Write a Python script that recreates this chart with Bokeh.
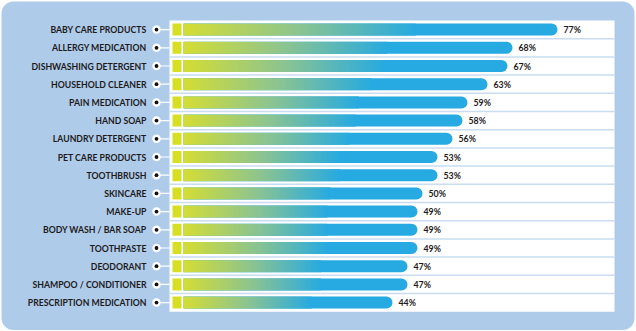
import numpy as np
from bokeh.plotting import figure
from bokeh.models import Range1d
from bokeh.core.properties import value
from bokeh.embed import file_html
from bokeh.resources import INLINE

categories = [
    "BABY CARE PRODUCTS", "ALLERGY MEDICATION", "DISHWASHING DETERGENT",
    "HOUSEHOLD CLEANER", "PAIN MEDICATION", "HAND SOAP", "LAUNDRY DETERGENT",
    "PET CARE PRODUCTS", "TOOTHBRUSH", "SKINCARE", "MAKE-UP",
    "BODY WASH / BAR SOAP", "TOOTHPASTE", "DEODORANT",
    "SHAMPOO / CONDITIONER", "PRESCRIPTION MEDICATION",
]
values = [77, 68, 67, 63, 59, 58, 56, 53, 53, 50, 49, 49, 49, 47, 47, 44]
value_labels = [f"{v}%" for v in values]

W, H = 636, 331
X0_PX, PX_PER_UNIT = 172.0, 5.0
Y0_PX, ROW_PX = 29.1, 18.2


def xd(px):
    return (px - X0_PX) / PX_PER_UNIT


def yd(py):
    return (py - Y0_PX) / ROW_PX


p = figure(width=W, height=H, output_backend="svg", toolbar_location=None,
           x_range=Range1d(xd(0), xd(W)), y_range=Range1d(yd(H), yd(0)),
           min_border=0, outline_line_color=None,
           background_fill_color="white", border_fill_color="white")
p.axis.visible = False
p.grid.visible = False

# outer rounded frame
p.quad(left=[xd(1)], right=[xd(634)], top=[yd(1)], bottom=[yd(329.5)],
       fill_color="#AECCEA", line_color=None, border_radius=12)

n = len(categories)
ys = list(range(n))

# white panel
p.quad(left=[xd(169)], right=[xd(614)], top=[-0.5], bottom=[n - 0.5],
       fill_color="white", line_color=None)

# separators
sep_y = [i + 0.5 for i in range(n - 1)]
p.segment(x0=[xd(169)] * len(sep_y), x1=[xd(614)] * len(sep_y), y0=sep_y, y1=sep_y,
          line_color="#C9DCF0", line_width=1.5)

# connector lines and dots
p.segment(x0=[xd(156)] * n, x1=[xd(169)] * n, y0=ys, y1=ys,
          line_color="white", line_width=1.2)
p.scatter(x=[xd(156)] * n, y=ys, size=8.5, fill_color="white", line_color=None)
p.scatter(x=[xd(156)] * n, y=ys, size=3.8, fill_color="#111111", line_color=None)

bar_h = 0.66
# yellow square
p.quad(left=[0] * n, right=[xd(181)] * n, top=[y - bar_h / 2 for y in ys],
       bottom=[y + bar_h / 2 for y in ys], fill_color="#D7DF23", line_color=None)

# blue capsule bars
start = xd(183)
p.hbar(y=ys, left=[start] * n, right=values, height=bar_h,
       fill_color="#27AAE1", line_color=None, border_radius=(0, 6, 6, 0))

# gradient overlay as images
stops_t = np.array([0.0, 0.5, 1.0])
stops_c = np.array([[212, 221, 52], [140, 196, 145], [39, 170, 225]], dtype=float)

imgs, xs, yimg, dws = [], [], [], []
for y, v in zip(ys, values):
    g_end = 0.63 * v
    npx = max(2, int(round((g_end - start) * PX_PER_UNIT))) * 3
    t = np.linspace(0, 1, npx)
    rgb = np.stack([np.interp(t, stops_t, stops_c[:, k]) for k in range(3)], axis=1)
    rgb = np.round(rgb).astype(np.uint32)
    row = (255 << 24) | (rgb[:, 2] << 16) | (rgb[:, 1] << 8) | rgb[:, 0]
    img = np.repeat(row[None, :], 12, axis=0).astype(np.uint32)
    imgs.append(img)
    xs.append(start)
    yimg.append(y - bar_h / 2)
    dws.append(g_end - start + 0.1)
p.image_rgba(image=imgs, x=xs, y=yimg, dw=dws, dh=[bar_h] * n)

# category labels
p.text(x=[xd(146)] * n, y=ys, text=categories, text_align="right",
       text_baseline="middle", text_font=value("Lato"), text_font_style="bold",
       text_font_size="8.7px", text_color="#1E1A1B")

# value labels
p.text(x=values, y=ys, text=value_labels, x_offset=6, text_align="left",
       text_baseline="middle", text_font=value("Lato"), text_font_style="bold",
       text_font_size="8.8px", text_color="#1E1A1B")

open("out.html", "w").write(file_html(p, INLINE))
